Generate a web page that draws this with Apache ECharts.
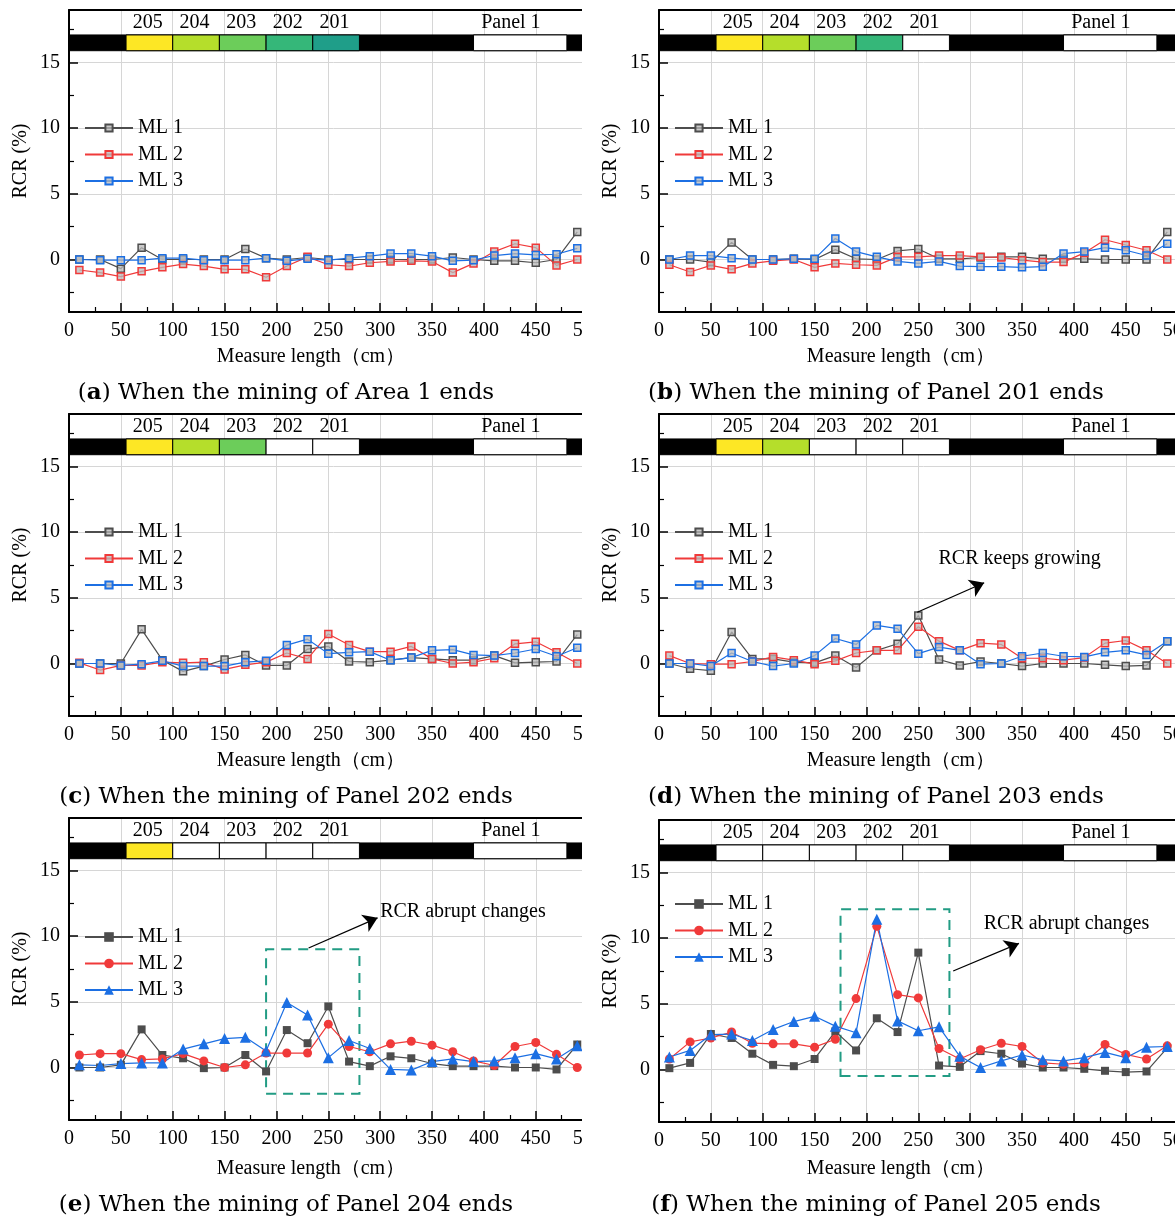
<!DOCTYPE html>
<html>
<head>
<meta charset="utf-8">
<script src="https://cdn.jsdelivr.net/npm/echarts@6/dist/echarts.min.js"></script>
<style>
  html, body { margin: 0; padding: 0; background: #fff; width: 1175px; height: 1221px; overflow: hidden; }
  .cell { position: absolute; overflow: hidden; }
  .cell .c { position: absolute; left: 0; top: 0; width: 660px; height: 412px; }
</style>
</head>
<body>
<script>
// Measuring points along the line (cm)
const measurePoints = [10, 30, 50, 70, 90, 110, 130, 150, 170, 190, 210, 230, 250, 270, 290, 310, 330, 350, 370, 390, 410, 430, 450, 470, 490];

// RCR (%) per measuring line, one set per mining stage
const a_ml1 = [0, 0, -0.7, 0.9, 0, 0, 0, 0, 0.8, 0.1, 0, 0.15, 0, 0, 0, 0, 0, 0, 0.15, 0, -0.1, -0.1, -0.25, 0, 2.1];
const a_ml2 = [-0.8, -1.0, -1.3, -0.9, -0.6, -0.35, -0.5, -0.75, -0.75, -1.35, -0.5, 0.2, -0.4, -0.5, -0.25, -0.15, -0.1, -0.15, -1.0, -0.3, 0.6, 1.2, 0.9, -0.45, 0];
const a_ml3 = [0, -0.05, -0.05, -0.05, 0.1, 0.1, -0.05, -0.05, -0.05, 0.1, -0.1, 0.05, -0.05, 0.1, 0.25, 0.45, 0.45, 0.25, -0.1, -0.05, 0.3, 0.45, 0.35, 0.4, 0.85];

const b_ml1 = [0, 0, -0.2, 1.3, 0, 0, 0.05, 0, 0.75, 0.05, 0, 0.65, 0.8, 0.05, 0.05, 0.15, 0.2, 0.2, 0.05, 0.05, 0.05, 0, 0, 0, 2.1];
const b_ml2 = [-0.4, -0.95, -0.45, -0.75, -0.3, -0.1, 0, -0.6, -0.3, -0.4, -0.45, 0.2, 0.2, 0.3, 0.3, 0.2, 0.15, -0.05, -0.2, -0.2, 0.5, 1.5, 1.1, 0.7, 0];
const b_ml3 = [0, 0.3, 0.3, 0.1, 0, 0, 0.05, 0.05, 1.6, 0.6, 0.2, -0.15, -0.3, -0.15, -0.5, -0.55, -0.55, -0.6, -0.55, 0.45, 0.6, 0.9, 0.7, 0.3, 1.2];

const c_ml1 = [0, 0, 0, 2.6, 0.25, -0.6, -0.2, 0.3, 0.65, -0.15, -0.15, 1.1, 1.3, 0.15, 0.1, 0.25, 0.45, 0.35, 0.25, 0.25, 0.6, 0.05, 0.1, 0.15, 2.2];
const c_ml2 = [0.05, -0.5, -0.15, -0.15, 0.1, 0.05, 0.1, -0.45, -0.1, 0.1, 0.8, 0.35, 2.25, 1.4, 0.9, 0.9, 1.3, 0.35, 0, 0.1, 0.4, 1.5, 1.65, 0.85, 0];
const c_ml3 = [0, 0, -0.15, -0.05, 0.2, -0.2, -0.2, -0.2, 0.1, 0.2, 1.4, 1.85, 0.75, 0.85, 0.9, 0.25, 0.45, 1.0, 1.05, 0.65, 0.6, 0.8, 1.1, 0.55, 1.2];

const d_ml1 = [0, -0.4, -0.55, 2.4, 0.35, 0.35, 0.1, 0.05, 0.6, -0.3, 1.0, 1.5, 3.65, 0.3, -0.15, 0.15, 0, -0.2, 0, 0, 0, -0.1, -0.2, -0.15, 1.7];
const d_ml2 = [0.6, 0, -0.05, -0.05, 0.15, 0.5, 0.25, -0.05, 0.2, 0.8, 1.0, 1.0, 2.8, 1.7, 1.0, 1.55, 1.45, 0.4, 0.4, 0.25, 0.45, 1.55, 1.75, 1.0, 0];
const d_ml3 = [0, 0, -0.2, 0.8, 0.15, -0.2, 0, 0.6, 1.9, 1.45, 2.9, 2.65, 0.75, 1.25, 1.0, -0.05, 0, 0.55, 0.8, 0.55, 0.5, 0.85, 1.0, 0.65, 1.7];

const e_ml1 = [0, 0, 0.2, 2.9, 0.95, 0.7, -0.05, 0, 0.95, -0.3, 2.85, 1.85, 4.65, 0.45, 0.1, 0.85, 0.7, 0.3, 0.1, 0.1, 0.1, 0, 0, -0.15, 1.75];
const e_ml2 = [0.95, 1.05, 1.05, 0.6, 0.65, 1.05, 0.5, 0, 0.2, 1.1, 1.1, 1.1, 3.3, 1.6, 1.2, 1.8, 2.0, 1.7, 1.2, 0.5, 0.15, 1.6, 1.9, 1.0, 0];
const e_ml3 = [0.2, 0.15, 0.3, 0.35, 0.35, 1.4, 1.8, 2.2, 2.3, 1.25, 4.95, 4.0, 0.75, 2.05, 1.45, -0.15, -0.2, 0.45, 0.65, 0.45, 0.5, 0.75, 1.05, 0.65, 1.65];

const f_ml1 = [0.1, 0.5, 2.7, 2.4, 1.2, 0.35, 0.25, 0.8, 2.9, 1.45, 3.9, 2.85, 8.9, 0.3, 0.2, 1.4, 1.2, 0.45, 0.15, 0.15, 0.05, -0.1, -0.2, -0.15, 1.65];
const f_ml2 = [0.8, 2.1, 2.4, 2.85, 2.0, 1.95, 1.95, 1.7, 2.3, 5.4, 10.9, 5.7, 5.45, 1.6, 0.8, 1.5, 2.0, 1.75, 0.5, 0.4, 0.5, 1.9, 1.15, 0.8, 1.8];
const f_ml3 = [0.95, 1.45, 2.65, 2.7, 2.2, 3.05, 3.65, 4.05, 3.3, 2.8, 11.45, 3.7, 2.95, 3.25, 1.0, 0.15, 0.65, 1.1, 0.75, 0.65, 0.9, 1.3, 0.9, 1.7, 1.75];

const seriesNames = ['ML 1', 'ML 2', 'ML 3'];

// Working-face strip along the top of each plot (cm)
const stripNames = ['205', '204', '203', '202', '201', 'Panel 1'];
const stripStart = [55, 100, 145, 190, 235, 390];
const stripEnd = [100, 145, 190, 235, 280, 480];
const stripLabelX = [76, 121, 166, 211, 256, 426];
const stripFill = ['#fde725', '#b5de2b', '#6ccd5a', '#35b779', '#1f9e89'];

// Axis ticks
const yMajorTicks = [0, 5, 10, 15];
const yMinorTicks = [-2.5, 2.5, 7.5, 12.5, 17.5];

const SERIF = '"Liberation Serif", "Times New Roman", serif';
const CAPTION_FONT = '"DejaVu Serif", serif';
const LINE_COLORS = ['#4d4d4d', '#f03a3a', '#1c6fe3'];
const BOX_COLOR = '#229c84';

const panels = [
  { id: 'a', col: 0, top: 0, lines: [a_ml1, a_ml2, a_ml3], remaining: 5, filled: false,
    caption: 'When the mining of Area 1 ends', captionY: 393, nameY: 357, legendTop: 118 },
  { id: 'b', col: 1, top: 0, lines: [b_ml1, b_ml2, b_ml3], remaining: 4, filled: false,
    caption: 'When the mining of Panel 201 ends', captionY: 393, nameY: 357, legendTop: 118 },
  { id: 'c', col: 0, top: 404, lines: [c_ml1, c_ml2, c_ml3], remaining: 3, filled: false,
    caption: 'When the mining of Panel 202 ends', captionY: 393, nameY: 357, legendTop: 118 },
  { id: 'd', col: 1, top: 404, lines: [d_ml1, d_ml2, d_ml3], remaining: 2, filled: false,
    caption: 'When the mining of Panel 203 ends', captionY: 393, nameY: 357, legendTop: 118,
    note: { text: 'RCR keeps growing', at: [269, 7.95], arrow: [[249, 3.9], [313.5, 6.15]] } },
  { id: 'e', col: 0, top: 808, lines: [e_ml1, e_ml2, e_ml3], remaining: 1, filled: true,
    caption: 'When the mining of Panel 204 ends', captionY: 397, nameY: 361, legendTop: 119,
    note: { text: 'RCR abrupt changes', at: [299.5, 11.85], arrow: [[231, 9.1], [297.5, 11.4]], box: [[190, -2], [280, 9]] } },
  { id: 'f', col: 1, top: 810, lines: [f_ml1, f_ml2, f_ml3], remaining: 0, filled: true,
    caption: 'When the mining of Panel 205 ends', captionY: 395, nameY: 359, legendTop: 84,
    note: { text: 'RCR abrupt changes', at: [312.5, 11.1], arrow: [[283.6, 7.5], [347, 9.6]], box: [[175, -0.5], [280, 12.2]] } }
];

function stripSeries(p) {
  const data = [[0, 510]];
  const looks = [{ fill: '#000', label: '', lx: 0 }];
  for (let i = 0; i < stripNames.length; i++) {
    data.push([stripStart[i], stripEnd[i]]);
    looks.push({ fill: i < p.remaining ? stripFill[i] : '#fff', label: stripNames[i], lx: stripLabelX[i] });
  }
  return {
    type: 'custom',
    silent: true,
    z: 1,
    data: data,
    renderItem: function (params, api) {
      const look = looks[params.dataIndex];
      const p0 = api.coord([api.value(0), 17.1]);
      const p1 = api.coord([api.value(1), 15.9]);
      const children = [{
        type: 'rect',
        shape: { x: p0[0], y: p0[1], width: p1[0] - p0[0], height: p1[1] - p0[1] },
        style: { fill: look.fill, stroke: '#000', lineWidth: 1 }
      }];
      if (look.label) {
        const t = api.coord([look.lx, 18]);
        children.push({
          type: 'text',
          x: t[0], y: t[1],
          style: { text: look.label, fontSize: 20, fontFamily: SERIF, fill: '#000', align: 'center', verticalAlign: 'middle' }
        });
      }
      return { type: 'group', children: children };
    }
  };
}

function lineSeries(p, k) {
  const s = {
    type: 'line',
    name: seriesNames[k],
    data: measurePoints.map((x, i) => [x, p.lines[k][i]]),
    symbol: p.filled ? ['rect', 'circle', 'triangle'][k] : 'rect',
    symbolSize: p.filled ? [8, 9, 11][k] : 7,
    showAllSymbol: true,
    z: 3,
    lineStyle: { color: LINE_COLORS[k], width: 1.2 },
    itemStyle: p.filled
      ? { color: LINE_COLORS[k] }
      : { color: 'rgba(185,185,185,0.75)', borderColor: LINE_COLORS[k], borderWidth: 1.5 },
    emphasis: { disabled: true }
  };
  if (k === 0 && p.note) {
    const n = p.note;
    s.markLine = {
      silent: true,
      symbol: ['none', 'arrow'],
      symbolSize: 14,
      label: { show: false },
      lineStyle: { color: '#000', width: 1.3, type: 'solid' },
      emphasis: { disabled: true },
      data: [[{ coord: n.arrow[0] }, { coord: n.arrow[1] }]]
    };
    s.markPoint = {
      silent: true,
      symbol: 'circle',
      symbolSize: 1,
      itemStyle: { color: 'rgba(0,0,0,0)' },
      label: { show: true, position: 'right', distance: 0, color: '#000', fontFamily: SERIF, fontSize: 20, formatter: n.text },
      data: [{ coord: n.at }]
    };
    if (n.box) {
      s.markArea = {
        silent: true,
        itemStyle: { color: 'rgba(0,0,0,0)', borderColor: BOX_COLOR, borderWidth: 2, borderType: [10, 7] },
        emphasis: { disabled: true },
        data: [[{ coord: n.box[0] }, { coord: n.box[1] }]]
      };
    }
  }
  return s;
}

function makeOption(p) {
  const blackLine = { color: '#000', width: 2 };
  const tickLine = { color: '#000', width: 1.5 };
  return {
    animation: false,
    backgroundColor: 'transparent',
    grid: { left: 69, top: 10, width: 529, height: 302, outerBoundsMode: 'none' },
    legend: {
      data: seriesNames,
      orient: 'vertical',
      left: 84,
      top: p.legendTop,
      padding: 0,
      itemWidth: 48,
      itemHeight: p.filled ? 12 : 9,
      itemGap: 6.5,
      selectedMode: false,
      textStyle: { fontFamily: SERIF, fontSize: 20, color: '#000' }
    },
    xAxis: [
      {
        type: 'value', min: 0, max: 510, interval: 50, position: 'bottom',
        axisLine: { show: true, onZero: false, lineStyle: blackLine },
        axisTick: { show: true, inside: true, length: 9, lineStyle: tickLine },
        minorTick: { show: true, splitNumber: 2, length: 5, lineStyle: { color: '#000', width: 1.2 } },
        axisLabel: { color: '#000', fontFamily: SERIF, fontSize: 20, margin: 9 },
        splitLine: { show: true, lineStyle: { color: '#d6d6d6', width: 1 } }
      },
      {
        type: 'value', min: 0, max: 510, position: 'top',
        axisLine: { show: true, onZero: false, lineStyle: blackLine },
        axisTick: { show: false }, axisLabel: { show: false }, splitLine: { show: false }
      }
    ],
    yAxis: [
      {
        type: 'value', min: -4, max: 19, position: 'left',
        axisLine: { show: true, onZero: false, lineStyle: blackLine },
        axisTick: { show: true, inside: true, length: 9, customValues: yMajorTicks, lineStyle: tickLine },
        axisLabel: { customValues: yMajorTicks, color: '#000', fontFamily: SERIF, fontSize: 20, margin: 9 },
        splitLine: { show: true, lineStyle: { color: '#d6d6d6', width: 1 } },
        name: 'RCR (%)', nameLocation: 'middle', nameGap: 38, nameRotate: 90, nameMoveOverlap: false,
        nameTextStyle: { fontFamily: SERIF, fontSize: 20, color: '#000' }
      },
      {
        type: 'value', min: -4, max: 19, position: 'left', offset: 0,
        axisLine: { show: false },
        axisTick: { show: true, inside: true, length: 5, customValues: yMinorTicks, lineStyle: { color: '#000', width: 1.2 } },
        axisLabel: { show: false }, splitLine: { show: false }
      }
    ],
    graphic: [
      {
        type: 'text', x: 311, y: p.nameY, silent: true,
        style: { text: 'Measure length（cm）', fontSize: 20, fontFamily: SERIF, fill: '#000', align: 'center', verticalAlign: 'middle' }
      },
      {
        type: 'text', x: 286, y: p.captionY, silent: true,
        style: {
          text: '({b|' + p.id + '}) ' + p.caption,
          fontSize: 23, fontFamily: CAPTION_FONT, fill: '#000', align: 'center', verticalAlign: 'middle',
          rich: { b: { fontSize: 23, fontFamily: CAPTION_FONT, fontWeight: 'bold', fill: '#000' } }
        }
      }
    ],
    series: [stripSeries(p), lineSeries(p, 0), lineSeries(p, 1), lineSeries(p, 2)]
  };
}

panels.forEach(function (p) {
  const cell = document.createElement('div');
  cell.className = 'cell';
  cell.style.left = (p.col ? 590 : 0) + 'px';
  cell.style.top = p.top + 'px';
  cell.style.width = (p.col ? 585 : 582) + 'px';
  cell.style.height = '412px';
  const host = document.createElement('div');
  host.className = 'c';
  cell.appendChild(host);
  document.body.appendChild(cell);
  const chart = echarts.init(host, null, { renderer: 'canvas' });
  chart.setOption(makeOption(p));
});
</script>
</body>
</html>
